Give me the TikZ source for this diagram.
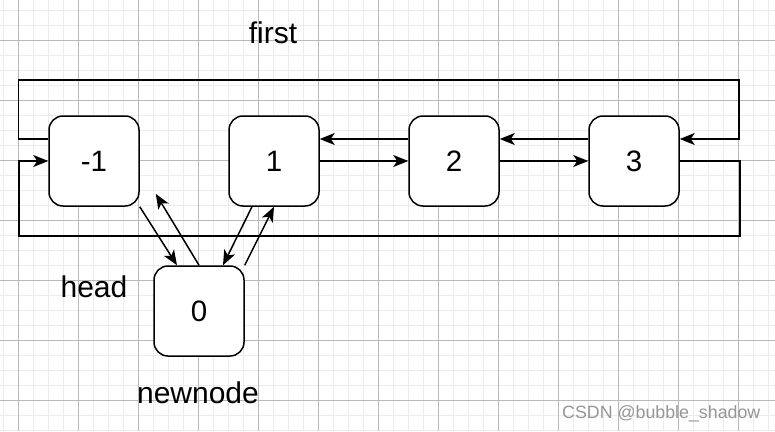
\documentclass[tikz,border=0pt]{standalone}
\usepackage{fontspec}
\setmainfont{Liberation Sans}
\usetikzlibrary{arrows.meta}
\definecolor{minorgrid}{RGB}{236,236,236}
\definecolor{majorgrid}{RGB}{185,185,185}
\definecolor{mark}{RGB}{150,150,150}
\newcommand{\drawgridlines}{
    \foreach \x in {3,18,...,775}{
    \draw[minorgrid, line width=1pt] (\x,0)--(\x,431);
    }
    \foreach \y in {10,25,...,431}{
      \draw[minorgrid, line width=1pt] (0,\y)--(775,\y);
    }
    \foreach \x in {18,78,...,775}{
    \draw[majorgrid, line width=1pt] (\x,0)--(\x,431);
    }
    \foreach \y in {40,100,...,431}{
      \draw[majorgrid, line width=1pt] (0,\y)--(775,\y);
    }
}
\tikzset{
  box/.style={draw, line width=1.5pt, rounded corners=14pt, fill=white,
    minimum width=90pt, minimum height=90pt, inner sep=0pt,
    font=\fontsize{29.5}{35}\selectfont},
  label/.style={anchor=base, inner sep=0pt, font=\fontsize{30}{36}\selectfont},
  link/.style={line width=1.5pt, -{Stealth[length=15pt, width=12pt, inset=4pt]}},
  wire/.style={line width=1.5pt}
}

\begin{document}
\begin{tikzpicture}[x=1pt, y=-1pt]
\useasboundingbox (0,0) rectangle (775,431);
\fill[white] (0,0) rectangle (775,431);
\drawgridlines
% loops round the ring
\coordinate (topR) at (739,80);
\coordinate (botL) at (19,236);
\node[box] (bm1) at (94,161) {-1};
\node[box] (b1) at (274,161) {1};
\node[box] (b2) at (454,161) {2};
\node[box] (b3) at (634,161) {3};
\node[box] (b0) at (199,311) {0};
\draw[link] ([yshift=22pt]bm1.west) -- ++(-30,0) |- (topR) |- ([yshift=22pt]b3.east);
\draw[link] (b3.east) -- ++(60,0) |- (botL) |- (bm1.west);
% next / prev
\draw[link] (b1.east) -- (b2.west);
\draw[link] (b2.east) -- (b3.west);
\draw[link] ([yshift=22pt]b2.west) -- ([yshift=22pt]b1.east);
\draw[link] ([yshift=22pt]b3.west) -- ([yshift=22pt]b2.east);
% new node links
\coordinate (tipm1) at ([shift={(16pt,13pt)}]bm1.south east);
\draw[link] (bm1.south east) -- ([xshift=-22pt]b0.north);
\draw[link] (b0.north) -- (tipm1);
\draw[link] ([xshift=-22pt]b1.south) -- ([xshift=24pt]b0.north);
\draw[link] (b0.north east) -- (b1.south);
% labels
\node[label] (first) at (273,43) {first};
\node[label] (head) at (94,297) {head};
\node[label] (newnode) at (198,403) {newnode};
\node[label, anchor=base west, text=mark, font=\fontsize{17.8}{21}\selectfont] (csdn) at (562,418) {CSDN @bubble\_shadow};
\end{tikzpicture}
\end{document}
